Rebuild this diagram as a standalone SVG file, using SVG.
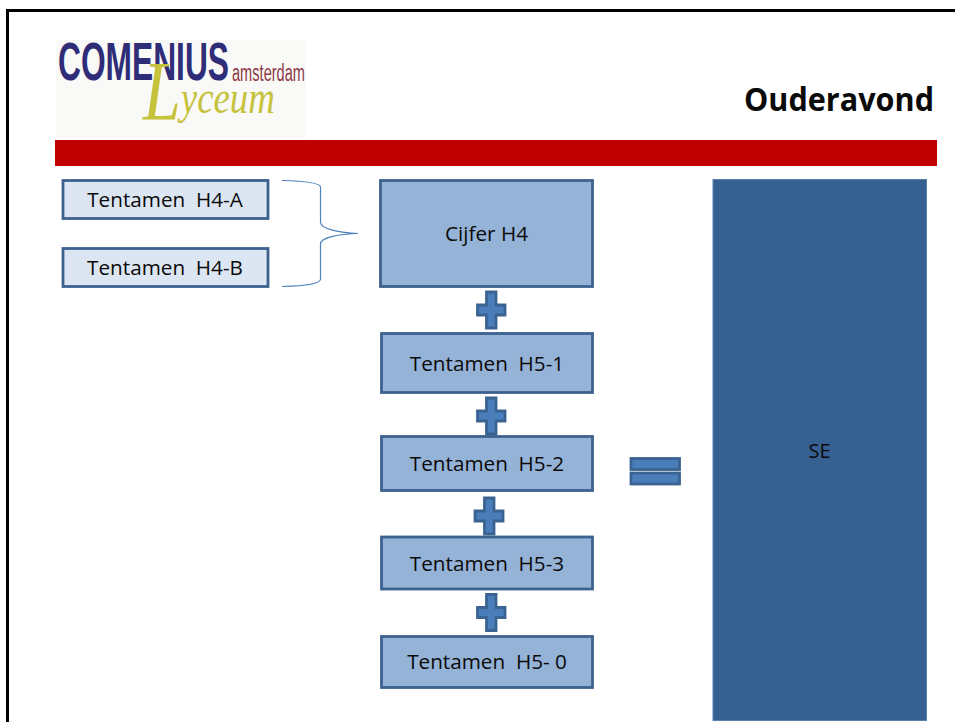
<svg xmlns="http://www.w3.org/2000/svg" width="955" height="722" viewBox="0 0 955 722">
<style>
text{font-family:"Open Sans","Noto Sans","Liberation Sans",sans-serif;fill:#0a0a0a;white-space:pre}
.lbl{font-size:20.7px;text-anchor:middle}
.lt{fill:#dce6f2;stroke:#3d6290;stroke-width:2.8}
.md{fill:#95b3d7;stroke:#3d6290;stroke-width:2.8}
.op{fill:#4a7ebb;stroke:#3a6391;stroke-width:2.8}
</style>
<rect width="955" height="722" fill="#fff"/>
<path id="frame" d="M7.500 722V10.500H955" fill="none" stroke="#000" stroke-width="3"/>
<g id="logo">
<rect x="56" y="40" width="250" height="98" fill="#f9f9f8"/>
<text x="58" y="80" textLength="171" lengthAdjust="spacingAndGlyphs" style="font-family:'Liberation Sans',sans-serif;font-weight:bold;font-size:53px;fill:#2f2d78">COMENIUS</text>
<text x="232" y="81" textLength="73" lengthAdjust="spacingAndGlyphs" style="font-family:'Liberation Sans',sans-serif;font-size:23px;fill:#8e3a45">amsterdam</text>
<text transform="translate(143 113) scale(.8 1)" style="font-family:'Liberation Serif',serif;font-style:italic;font-size:46px;fill:#c6c23c"><tspan font-size="85" dy="7">L</tspan><tspan dy="-7">yceum</tspan></text>
</g>
<g id="title"><text x="934" y="111" text-anchor="end" textLength="190" lengthAdjust="spacingAndGlyphs" style="font-size:33px;font-weight:bold">Ouderavond</text></g>
<rect id="bar" x="55" y="140" width="882" height="26" fill="#c00000"/>
<g id="connectors">
<path d="M282 180.500C305 181 320 183 320.500 187V222C320.500 229 340 233 358 233.500C340 234 320.500 237 320.500 244V279C320.500 284 305 286 282 286.500" fill="none" stroke="#4f81bd" stroke-width="1.2"/>
</g>
<g id="tentamen-h4-a"><rect class="lt" x="63" y="180.500" width="205" height="38"/><text class="lbl" x="165" y="207">Tentamen  H4-A</text></g>
<g id="tentamen-h4-b"><rect class="lt" x="63" y="248.500" width="205" height="38"/><text class="lbl" x="165" y="275">Tentamen  H4-B</text></g>
<g id="cijfer-h4"><rect class="md" x="380.500" y="180.500" width="212" height="106"/><text class="lbl" x="486.500" y="240.500">Cijfer H4</text></g>
<g id="plus-1"><path class="op" d="M486.500 292H496V305H505V315H496V328H486.500V315H477.500V305H486.500Z"/></g>
<g id="tentamen-h5-1"><rect class="md" x="381.500" y="333.500" width="211" height="59"/><text class="lbl" x="487" y="371">Tentamen  H5-1</text></g>
<g id="plus-2"><path class="op" d="M486.500 398H496V411H505V421H496V434H486.500V421H477.500V411H486.500Z"/></g>
<g id="tentamen-h5-2"><rect class="md" x="381.500" y="436.500" width="211" height="54"/><text class="lbl" x="487" y="471">Tentamen  H5-2</text></g>
<g id="equals"><rect class="op" x="631" y="458.500" width="48.500" height="11"/><rect class="op" x="631" y="473" width="48.500" height="11"/></g>
<g id="plus-3"><path class="op" d="M484.500 498H494V511H503V521H494V534H484.500V521H475V511H484.500Z"/></g>
<g id="tentamen-h5-3"><rect class="md" x="381.500" y="537" width="211" height="52"/><text class="lbl" x="487" y="571">Tentamen  H5-3</text></g>
<g id="plus-4"><path class="op" d="M486.500 594.500H496V607.500H505V617.500H496V630.500H486.500V617.500H477.500V607.500H486.500Z"/></g>
<g id="tentamen-h5-0"><rect class="md" x="381.500" y="636.500" width="211" height="51"/><text class="lbl" x="487" y="669">Tentamen  H5- 0</text></g>
<g id="se"><rect x="713" y="179.500" width="213.500" height="541" fill="#376092" stroke="#5a80ad" stroke-width="1"/><text x="819.500" y="457.500" text-anchor="middle" style="font-size:20px">SE</text></g>
</svg>
